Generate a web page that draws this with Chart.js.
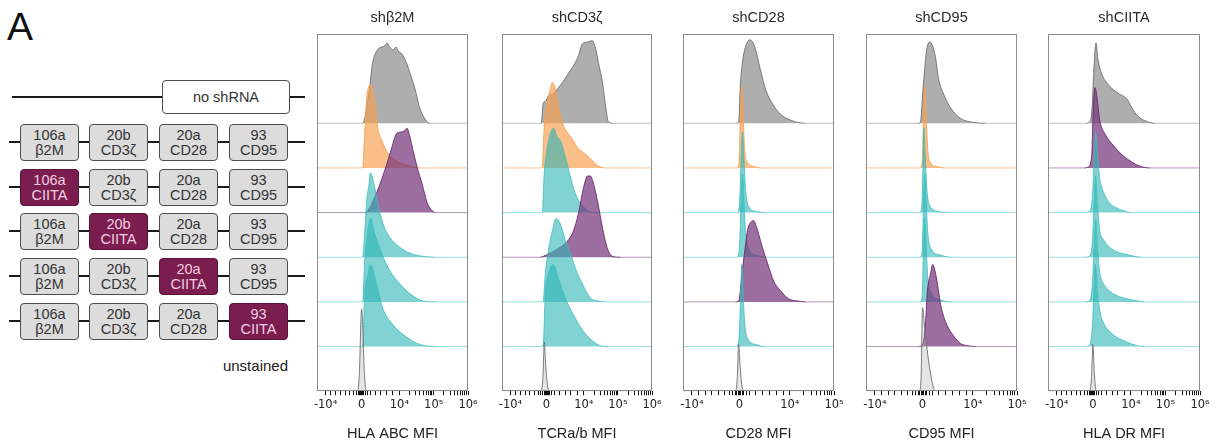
<!DOCTYPE html>
<html>
<head>
<meta charset="utf-8">
<script src="https://cdn.jsdelivr.net/npm/chart.js@4.4.1/dist/chart.umd.min.js"></script>
<style>
  body { margin: 0; background: #fff; font-family: "Liberation Sans", Arial, sans-serif; }
  #wrap { position: relative; width: 1216px; height: 446px; overflow: hidden; }
  .panel { position: absolute; top: 0; }
  .letter { position: absolute; left: 7px; top: 5px; font-size: 39px; color: #111; }
  .rail { position: absolute; height: 2px; background: #1a1a1a; }
  .box { position: absolute; box-sizing: border-box; border: 1px solid #4d4d4d; border-radius: 4px;
         background: #dcdcdc; color: #333; font-size: 14.5px; line-height: 15px; text-align: center; }
  .box.hit { background: #7b1d4f; border-color: #5a1238; color: #f3cfe2; }
  .box.none { background: #fff; line-height: 32px; }
  .note { position: absolute; font-size: 15px; color: #222; }
</style>
</head>
<body>
<div id="wrap"></div>
<script>
// ---- construct diagram (left side) ----
const slotIds = ['106a', '20b', '20a', '93'];
const slotTargets = ['β2M', 'CD3ζ', 'CD28', 'CD95'];
const ciitaSlot = [-1, 0, 1, 2, 3];   // per boxed row: which hairpin slot carries CIITA

// ---- histogram panels ----
const panelTitles = ['shβ2M', 'shCD3ζ', 'shCD28', 'shCD95', 'shCIITA'];
const markerTitles = ['HLA ABC MFI', 'TCRa/b MFI', 'CD28 MFI', 'CD95 MFI', 'HLA DR MFI'];

// axis positions in display units (one unit ~ one decade)
const wideTicks = [-1.05, 0, 1.1, 2.1, 3.1];
const wideTickLabels = ['-10⁴', '0', '10⁴', '10⁵', '10⁶'];
const wideMinor = [-0.9, -0.76, -0.62, -0.48, -0.35, -0.24, -0.16, -0.1, -0.06, -0.03,
  0.03, 0.06, 0.1, 0.16, 0.25, 0.4, 0.56, 0.72, 0.9,
  1.4, 1.58, 1.7, 1.8, 1.88, 1.95, 2.0, 2.05, 2.4, 2.58, 2.7, 2.8, 2.88, 2.95, 3.0, 3.05];
const narrowTicks = [-1.08, 0, 1.14, 2.14];
const narrowTickLabels = ['-10⁴', '0', '10⁴', '10⁵'];
const narrowMinor = [-0.93, -0.78, -0.63, -0.48, -0.34, -0.22, -0.15, -0.1, -0.06, -0.03,
  0.03, 0.06, 0.1, 0.15, 0.22, 0.36, 0.52, 0.68, 0.84, 1.0,
  1.44, 1.62, 1.74, 1.84, 1.92, 1.99, 2.04, 2.09];

// curves: [position, height in row units], rows top -> bottom
const abcNone = [[0.03,0],[0.21,0.67],[0.32,1.35],[0.44,1.62],[0.53,1.69],[0.68,1.74],[0.74,1.8],[0.82,1.71],[0.91,1.64],[1.0,1.71],[1.06,1.62],[1.18,1.55],[1.32,1.33],[1.41,1.12],[1.56,0.76],[1.68,0.38],[1.85,0.09],[2.0,0]];
const abcAll = [[0.03,0],[0.09,0.76],[0.15,1.57],[0.21,1.82],[0.26,1.87],[0.38,1.51],[0.47,0.9],[0.59,0.61],[0.76,0.34],[1.03,0.16],[1.41,0.04],[1.71,0]];
const abcC106 = [[0.1,0],[0.18,0.04],[0.44,0.45],[0.74,1.1],[0.88,1.46],[1.03,1.78],[1.12,1.8],[1.26,1.84],[1.32,1.89],[1.41,1.69],[1.5,1.39],[1.62,1.01],[1.76,0.65],[1.91,0.22],[2.06,0.04],[2.15,0]];
const abcC20b = [[0.03,0],[0.09,0.54],[0.15,1.28],[0.21,1.6],[0.26,1.89],[0.38,1.57],[0.47,1.21],[0.62,0.76],[0.82,0.45],[1.12,0.22],[1.41,0.09],[1.79,0.02],[2.15,0]];
const abcC20a = [[0.03,0],[0.09,0.92],[0.18,1.6],[0.26,1.87],[0.38,1.53],[0.59,1.08],[0.82,0.7],[1.12,0.4],[1.5,0.13],[1.79,0.02],[2.15,0]];
const abcC93 = [[0.03,0],[0.09,1.17],[0.18,1.6],[0.26,1.84],[0.44,1.39],[0.62,0.85],[0.91,0.49],[1.21,0.27],[1.62,0.07],[1.85,0.02],[2.15,0]];
const abcUnst = [[-0.12,0],[-0.06,0.5],[-0.02,1.6],[0.0,1.84],[0.03,1.5],[0.08,0.4],[0.15,0]];

const tcrNone = [[-0.15,0],[-0.09,0.45],[-0.03,0.49],[0.06,0.61],[0.21,0.67],[0.35,0.79],[0.5,0.94],[0.65,1.12],[0.79,1.28],[0.94,1.51],[1.06,1.78],[1.21,1.82],[1.35,1.85],[1.44,1.69],[1.53,1.35],[1.65,0.9],[1.74,0.38],[1.82,0.04],[1.94,0]];
const tcrAll = [[-0.12,0],[-0.06,0.94],[0.03,1.46],[0.12,1.78],[0.18,1.91],[0.26,1.78],[0.35,1.4],[0.47,1.01],[0.62,0.79],[0.76,0.65],[0.94,0.43],[1.15,0.31],[1.35,0.16],[1.53,0.04],[1.74,0]];
const tcrC106 = [[-0.12,0],[-0.06,0.9],[0.0,1.3],[0.09,1.7],[0.21,1.89],[0.32,1.69],[0.41,1.62],[0.56,1.24],[0.71,0.79],[0.85,0.43],[1.06,0.16],[1.29,0.02],[1.6,0]];
const tcrC20b = [[-0.18,0],[-0.09,0.02],[0.32,0.18],[0.62,0.36],[0.79,0.58],[0.94,0.97],[1.09,1.55],[1.21,1.82],[1.29,1.82],[1.38,1.66],[1.5,1.26],[1.65,0.65],[1.79,0.2],[1.94,0.02],[2.18,0]];
const tcrC20a = [[-0.15,0],[-0.09,0.02],[-0.03,0.63],[0.06,1.15],[0.18,1.6],[0.29,1.87],[0.41,1.75],[0.56,1.37],[0.71,1.08],[0.85,0.76],[1.06,0.4],[1.29,0.09],[1.53,0.02],[1.74,0]];
const tcrC93 = [[-0.15,0],[-0.09,0.05],[-0.03,1.17],[0.06,1.62],[0.21,1.84],[0.35,1.53],[0.56,1.08],[0.79,0.72],[1.09,0.34],[1.38,0.11],[1.59,0.02],[1.82,0]];
const tcrUnst = [[-0.16,0],[-0.1,0.3],[-0.06,1.1],[-0.02,0.6],[0.04,0.1],[0.1,0]];

const cd28None = [[-0.07,0],[-0.02,0.02],[0.02,0.88],[0.07,1.39],[0.14,1.73],[0.23,1.87],[0.32,1.78],[0.39,1.55],[0.48,1.17],[0.59,0.76],[0.75,0.43],[0.93,0.2],[1.16,0.07],[1.32,0.02],[1.5,0]];
const cd28All = [[-0.07,0],[-0.01,0.1],[0.02,1.2],[0.05,1.82],[0.08,1.3],[0.11,0.5],[0.16,0.15],[0.3,0.04],[0.48,0]];
const cd28C106 = [[-0.05,0],[0.0,0.2],[0.04,1.3],[0.07,1.8],[0.1,1.2],[0.14,0.5],[0.2,0.15],[0.36,0.03],[0.6,0]];
const cd28C20b = [[-0.05,0],[0.0,0.25],[0.04,1.35],[0.07,1.87],[0.1,1.25],[0.14,0.55],[0.21,0.18],[0.4,0.04],[0.6,0]];
const cd28C20a = [[-0.09,0],[-0.02,0.02],[0.07,0.76],[0.14,1.3],[0.18,1.6],[0.25,1.78],[0.32,1.82],[0.39,1.66],[0.43,1.53],[0.52,1.21],[0.64,0.85],[0.77,0.47],[0.93,0.25],[1.11,0.07],[1.32,0.02],[1.5,0]];
const cd28C93 = [[-0.06,0],[-0.01,0.2],[0.03,1.3],[0.05,1.84],[0.08,1.2],[0.12,0.5],[0.19,0.17],[0.4,0.04],[0.55,0]];
const cd28Unst = [[-0.1,0],[-0.05,0.3],[-0.02,1.05],[0.01,0.6],[0.06,0.1],[0.12,0]];

const cd95None = [[-0.11,0],[-0.05,0.02],[0.02,0.88],[0.09,1.62],[0.16,1.82],[0.23,1.73],[0.3,1.44],[0.36,1.01],[0.48,0.65],[0.64,0.34],[0.86,0.11],[1.16,0.02],[1.43,0]];
const cd95All = [[-0.06,0],[-0.01,0.1],[0.02,1.0],[0.05,1.84],[0.08,1.2],[0.12,0.4],[0.18,0.12],[0.32,0.03],[0.5,0]];
const cd95C106 = [[-0.07,0],[-0.02,0.1],[0.01,1.0],[0.03,1.89],[0.06,1.3],[0.1,0.5],[0.17,0.15],[0.35,0.03],[0.55,0]];
const cd95C20b = [[-0.06,0],[-0.01,0.1],[0.02,1.1],[0.05,1.87],[0.08,1.3],[0.12,0.55],[0.2,0.18],[0.4,0.05],[0.65,0]];
const cd95C20a = [[-0.06,0],[-0.01,0.1],[0.02,1.1],[0.05,1.89],[0.08,1.3],[0.12,0.55],[0.2,0.2],[0.4,0.05],[0.65,0]];
const cd95C93 = [[-0.09,0],[0.0,0.04],[0.07,0.56],[0.11,1.24],[0.18,1.62],[0.23,1.84],[0.27,1.75],[0.34,1.39],[0.41,0.94],[0.52,0.56],[0.68,0.27],[0.86,0.07],[1.02,0.02],[1.2,0]];
const cd95Unst = [[-0.07,0],[-0.03,0.4],[0.0,1.87],[0.05,1.4],[0.12,0.8],[0.2,0.3],[0.27,0.02],[0.32,0]];

const drNone = [[-0.2,0],[-0.12,0.02],[-0.03,0.27],[0.03,1.24],[0.09,1.8],[0.14,1.46],[0.26,1.1],[0.41,0.9],[0.58,0.76],[0.78,0.65],[0.99,0.54],[1.13,0.34],[1.3,0.16],[1.57,0.04],[1.8,0]];
const drAll = [[-0.23,0],[-0.14,0.02],[-0.03,0.31],[0.0,1.12],[0.06,1.8],[0.12,1.57],[0.2,1.06],[0.35,0.76],[0.55,0.54],[0.78,0.34],[1.07,0.16],[1.36,0.04],[1.65,0]];
const drC106 = [[-0.2,0],[-0.1,0.03],[-0.02,0.3],[0.03,1.1],[0.08,1.8],[0.13,1.3],[0.2,0.75],[0.26,0.56],[0.35,0.38],[0.5,0.2],[0.7,0.1],[0.9,0.04],[1.1,0]];
const drC20b = [[-0.2,0],[-0.1,0.03],[-0.02,0.3],[0.03,1.1],[0.08,1.83],[0.13,1.2],[0.2,0.6],[0.3,0.4],[0.49,0.22],[0.7,0.12],[0.99,0.06],[1.28,0.01],[1.4,0]];
const drC20a = [[-0.2,0],[-0.1,0.03],[-0.02,0.35],[0.03,1.15],[0.08,1.85],[0.13,1.25],[0.2,0.65],[0.3,0.42],[0.49,0.24],[0.7,0.14],[0.99,0.07],[1.3,0.02],[1.5,0]];
const drC93 = [[-0.2,0],[-0.1,0.03],[-0.02,0.4],[0.03,1.2],[0.07,1.84],[0.14,1.17],[0.2,0.8],[0.29,0.56],[0.58,0.27],[0.96,0.11],[1.28,0.02],[1.45,0]];
const drUnst = [[-0.1,0],[-0.04,0.3],[0.0,1.05],[0.04,0.4],[0.1,0]];

const panelSeries = [
  [abcNone, abcAll, abcC106, abcC20b, abcC20a, abcC93, abcUnst],
  [tcrNone, tcrAll, tcrC106, tcrC20b, tcrC20a, tcrC93, tcrUnst],
  [cd28None, cd28All, cd28C106, cd28C20b, cd28C20a, cd28C93, cd28Unst],
  [cd95None, cd95All, cd95C106, cd95C20b, cd95C20a, cd95C93, cd95Unst],
  [drNone, drAll, drC106, drC20b, drC20a, drC93, drUnst]
];
// which sample is the knockdown (orange) / CIITA-in-target-slot (purple) per panel
const panelTints = [
  ['gray', 'orange', 'purple', 'teal', 'teal', 'teal', 'unst'],
  ['gray', 'orange', 'teal', 'purple', 'teal', 'teal', 'unst'],
  ['gray', 'orange', 'teal', 'teal', 'purple', 'teal', 'unst'],
  ['gray', 'orange', 'teal', 'teal', 'teal', 'purple', 'unst'],
  ['gray', 'purple', 'teal', 'teal', 'teal', 'teal', 'unst']
];

// ---- styles & layout ----
const tintStyle = {
  gray:   { line: 'rgba(100,100,100,0.8)',  base: 'rgba(150,150,150,0.6)', fill: 'rgba(125,125,125,0.62)' },
  orange: { line: 'rgba(247,160,80,0.9)',   base: 'rgba(247,160,80,0.6)',  fill: 'rgba(248,160,80,0.68)' },
  teal:   { line: 'rgba(60,190,190,0.8)',   base: 'rgba(70,195,195,0.55)', fill: 'rgba(45,180,180,0.6)' },
  purple: { line: 'rgba(105,40,110,0.9)',   base: 'rgba(120,60,125,0.55)', fill: 'rgba(115,50,120,0.7)' },
  unst:   { line: 'rgba(110,110,110,0.9)',  base: 'rgba(110,110,110,0.5)', fill: 'rgba(180,180,180,0.35)' }
};
const frames = [[317, 468], [502, 652], [683, 834], [866, 1017], [1048, 1200]];
const wideAxis = [true, true, false, false, true];
const PAD = 16;

Chart.defaults.font.family = '"Liberation Sans", Arial, sans-serif';

const wrap = document.getElementById('wrap');

function addEl(cls, css, html) {
  const d = document.createElement('div');
  d.className = cls;
  Object.assign(d.style, css);
  if (html !== undefined) d.innerHTML = html;
  wrap.appendChild(d);
  return d;
}

addEl('letter', {}, 'A');

// no shRNA row
addEl('rail', { left: '12px', width: '293px', top: '96px' });
addEl('box none', { left: '162px', top: '80px', width: '128px', height: '34px' }, 'no shRNA');

const boxLefts = [20, 89, 159, 229];
const boxTops = [124, 169, 213, 258, 303];
boxTops.forEach((top, r) => {
  addEl('rail', { left: '9px', width: '296px', top: (top + 17) + 'px' });
  slotIds.forEach((id, s) => {
    const hit = ciitaSlot[r] === s;
    addEl('box' + (hit ? ' hit' : ''),
      { left: boxLefts[s] + 'px', top: top + 'px', width: '59px', height: '37px', paddingTop: '3px' },
      id + '<br>' + (hit ? 'CIITA' : slotTargets[s]));
  });
});
addEl('note', { right: (1216 - 288) + 'px', top: '357px' }, 'unstained');

const framePlugin = {
  id: 'frame',
  afterDatasetsDraw(chart) {
    const { ctx, chartArea: a } = chart;
    ctx.save();
    ctx.strokeStyle = '#8c8c8c';
    ctx.lineWidth = 1;
    ctx.strokeRect(Math.round(a.left) + 0.5, Math.round(a.top) + 0.5,
      Math.round(a.right) - Math.round(a.left) - 1, Math.round(a.bottom) - Math.round(a.top) - 1);
    ctx.restore();
  }
};

panelTitles.forEach((title, p) => {
  const [fl, fr] = frames[p];
  const wide = wideAxis[p];
  const majors = wide ? wideTicks : narrowTicks;
  const majorLabels = wide ? wideTickLabels : narrowTickLabels;
  const minors = wide ? wideMinor : narrowMinor;
  const xMin = wide ? -1.3 : -1.28;
  const xMax = wide ? 3.1 : 2.14;
  const allTicks = majors.concat(minors).sort((a, b) => a - b);

  const canvas = document.createElement('canvas');
  canvas.className = 'panel';
  const w = fr - fl + 2 * PAD;
  canvas.width = w;
  canvas.height = 446;
  canvas.style.left = (fl - PAD) + 'px';
  canvas.style.width = w + 'px';
  canvas.style.height = '446px';
  wrap.appendChild(canvas);

  const rows = panelSeries[p];
  const datasets = rows.map((pts, r) => {
    const base = rows.length - 1 - r;
    const st = tintStyle[panelTints[p][r]];
    const data = [{ x: xMin, y: base }]
      .concat(pts.map(([x, h]) => ({ x, y: base + h })))
      .concat([{ x: xMax, y: base }]);
    return {
      data,
      borderColor: st.line,
      backgroundColor: st.fill,
      borderWidth: 1,
      pointRadius: 0,
      fill: { value: base },
      cubicInterpolationMode: 'monotone',
      order: base,
      segment: {
        borderColor: (c) => (c.p0.parsed.y === base && c.p1.parsed.y === base) ? st.base : undefined
      }
    };
  });

  new Chart(canvas, {
    type: 'line',
    data: { datasets },
    options: {
      responsive: false,
      animation: false,
      events: [],
      layout: { padding: { left: PAD, right: PAD, top: 0, bottom: 0 } },
      plugins: {
        legend: { display: false },
        tooltip: { enabled: false },
        title: {
          display: true, text: title, color: '#2a2a2a',
          font: { size: 14.5, weight: 'normal' },
          padding: { top: 9, bottom: 7.6 }
        }
      },
      scales: {
        x: {
          type: 'linear', min: xMin, max: xMax,
          afterBuildTicks: (axis) => { axis.ticks = allTicks.map(v => ({ value: v })); },
          ticks: {
            autoSkip: false, maxRotation: 0, color: '#222', padding: 3,
            font: { size: 11.5, family: '"DejaVu Sans", "Liberation Sans", sans-serif' },
            callback: (v) => {
              const i = majors.findIndex(m => Math.abs(m - v) < 1e-6);
              return i >= 0 ? majorLabels[i] : '';
            }
          },
          grid: { drawOnChartArea: false, tickLength: 4, color: '#111' },
          border: { display: false },
          title: {
            display: true, text: markerTitles[p], color: '#222',
            font: { size: 14.5 }, padding: { top: 10.6, bottom: 3 }
          }
        },
        y: { min: 0, max: 8, display: false }
      }
    },
    plugins: [framePlugin]
  });
});
</script>
</body>
</html>
